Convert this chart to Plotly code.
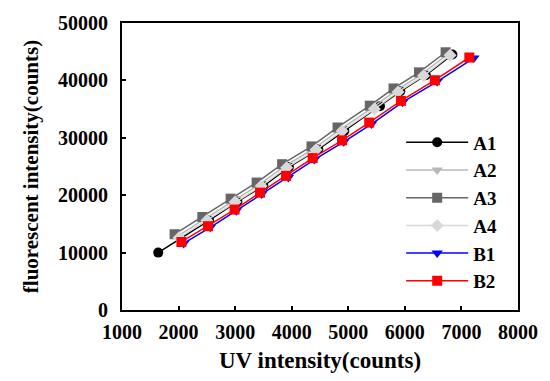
import plotly.graph_objects as go

a1_x = [1640, 2540, 3040, 3500, 3950, 4470, 4930, 5560, 5920, 6370, 6840]
a1_y = [10000, 15600, 18900, 21600, 24900, 28000, 31200, 35500, 38100, 40900, 44500]
a2_x = [1970, 2460, 2960, 3420, 3870, 4390, 4850, 5420, 5840, 6290, 6760]
a2_y = [12800, 15800, 19000, 21800, 25000, 28100, 31400, 35200, 38200, 41000, 44600]
a3_x = [1930, 2420, 2920, 3380, 3830, 4350, 4810, 5380, 5800, 6250, 6720]
a3_y = [13200, 16200, 19400, 22200, 25400, 28500, 31800, 35600, 38600, 41400, 44900]
a4_x = [2010, 2500, 3000, 3460, 3910, 4430, 4890, 5460, 5880, 6330, 6800]
a4_y = [12600, 15600, 18800, 21600, 24800, 27900, 31200, 35000, 38000, 40800, 44400]
b1_x = [2090, 2560, 3020, 3470, 3940, 4400, 4920, 5410, 5960, 6570, 7220]
b1_y = [11600, 14400, 17300, 20200, 23100, 26200, 29300, 32400, 36200, 39800, 43900]
b2_x = [2050, 2520, 2990, 3440, 3900, 4370, 4890, 5370, 5930, 6530, 7140]
b2_y = [11850, 14600, 17500, 20450, 23370, 26460, 29550, 32650, 36430, 40030, 43990]

series = [
    ("A1", a1_x, a1_y, "#000000", "circle"),
    ("A2", a2_x, a2_y, "#b8b8b8", "triangle-down"),
    ("A3", a3_x, a3_y, "#666666", "square"),
    ("A4", a4_x, a4_y, "#d8d8d8", "diamond"),
    ("B1", b1_x, b1_y, "#0000ff", "triangle-down"),
    ("B2", b2_x, b2_y, "#ff0000", "square"),
]

fig = go.Figure()
for name, xs, ys, col, sym in series:
    fig.add_trace(go.Scatter(
        x=xs, y=ys, name=name, mode="lines+markers",
        line=dict(color=col, width=1.5),
        marker=dict(color=col, symbol=sym, size=10),
    ))

font_fam = "Liberation Serif, Times New Roman, serif"
axis_common = dict(
    showline=True, linecolor="black", linewidth=2, mirror=True,
    ticks="inside", ticklen=4, tickcolor="black", tickwidth=1.5,
    showgrid=False, zeroline=False, tickformat="d",
    tickfont=dict(family=font_fam, size=20, color="black", weight="bold"),
)
fig.update_layout(
    width=550, height=381,
    margin=dict(l=122, r=23, t=20, b=70),
    paper_bgcolor="white", plot_bgcolor="white",
    font=dict(family=font_fam, color="black"),
    xaxis=dict(range=[1000, 8000], dtick=1000, ticklabelstandoff=3,
               title=dict(text="UV intensity(counts)", font=dict(family=font_fam, size=23, weight="bold"), standoff=10),
               **axis_common),
    yaxis=dict(range=[0, 50000], dtick=10000, ticklabelstandoff=8,
               title=dict(text="fluorescent intensity(counts)", font=dict(family=font_fam, size=21, weight="bold"), standoff=14),
               **axis_common),
    legend=dict(x=0.705, y=0.65, xanchor="left", yanchor="top",
                bgcolor="rgba(0,0,0,0)", tracegroupgap=0, itemwidth=62,
                font=dict(family=font_fam, size=19, color="black", weight="bold")),
    showlegend=True,
)
fig.write_html("out.html")
